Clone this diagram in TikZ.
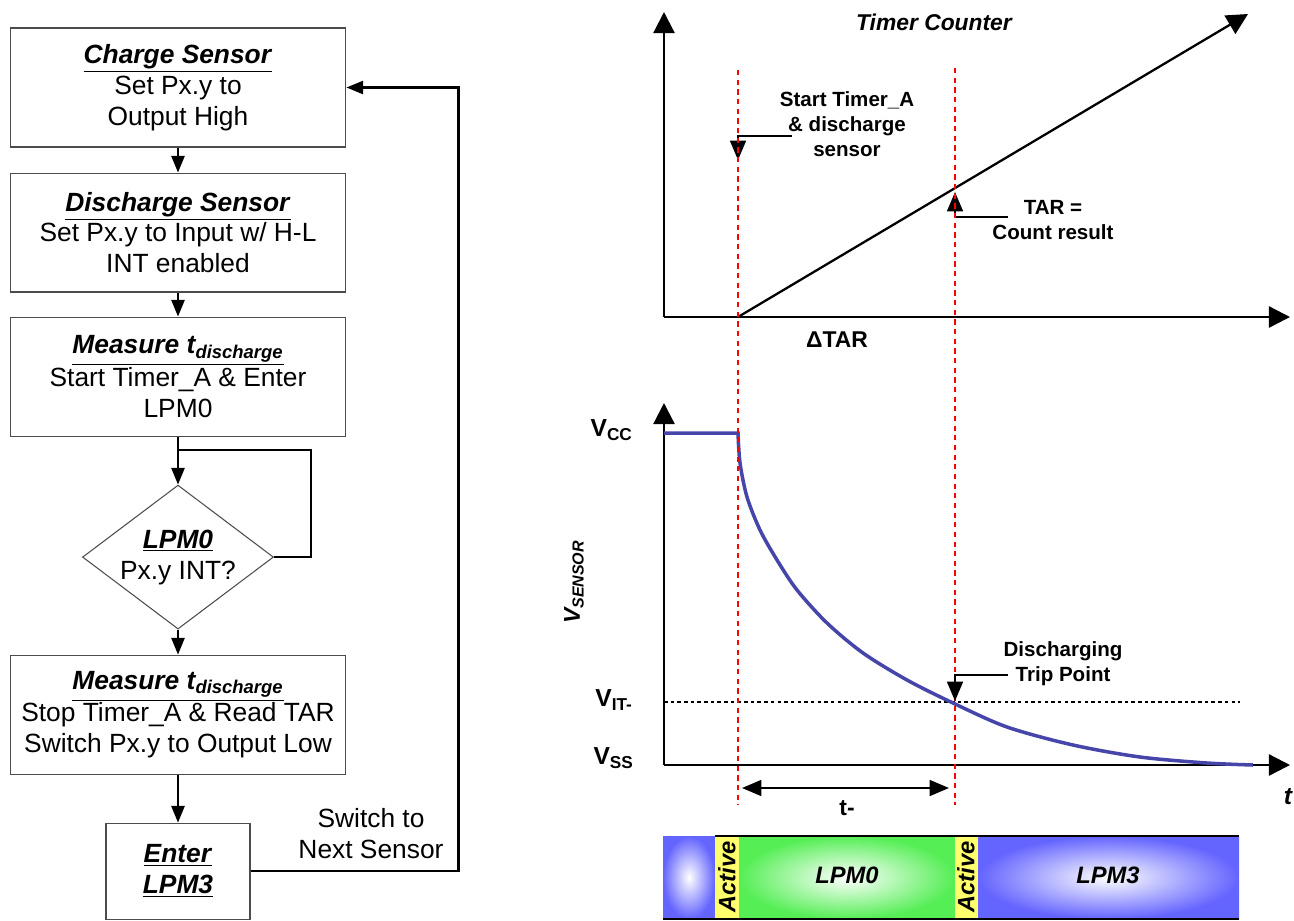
\documentclass[tikz,border=0pt]{standalone}
\usepackage{fontspec}
\setmainfont{Liberation Sans}
\usetikzlibrary{positioning,shapes.geometric,arrows.meta,calc}
\definecolor{boxline}{gray}{0.3}
\definecolor{curveblue}{RGB}{70,70,170}
\definecolor{barblue}{RGB}{100,100,255}
\definecolor{bargreen}{RGB}{85,238,85}
\definecolor{baryellow}{RGB}{255,255,110}
\tikzstyle{flow} = [
    line width=1.2pt,
    ->,
    >={Triangle[length=9.5pt,width=7.5pt]}
]
\newcommand{\steptitle}[1]{\underline{\textbf{\textit{#1}}}}

\begin{document}
\begin{tikzpicture}[
    x=0.02cm, y=-0.02cm,
    node distance=0.5cm,
    stepbox/.style={
        draw=boxline,
        line width=0.6pt,
        align=center,
        inner sep=0pt,
        minimum width=6.72cm,
        minimum height=2.38cm,
        font=\fontsize{15}{17.6}\selectfont
    },
    decision/.style={
        stepbox,
        diamond,
        aspect=1.33,
        minimum width=3.82cm,
        minimum height=2.88cm
    },
    endbox/.style={
        stepbox,
        minimum width=2.88cm,
        minimum height=1.92cm
    },
    link/.style={line width=1.2pt},
    axis/.style={
        line width=1.3pt,
        ->,
        >={Triangle[length=12pt,width=12pt]}
    },
    leader/.style={
        line width=1.2pt,
        ->,
        >={Triangle[length=11pt,width=9pt]}
    },
    marker/.style={red, line width=1.1pt, dash pattern=on 3pt off 2.5pt},
    sensor/.style={curveblue, line width=2pt},
    trip/.style={line width=1.4pt, dash pattern=on 2pt off 1.8pt},
    note/.style={align=center, font=\fontsize{11.7}{14.3}\selectfont\bfseries},
    level/.style={note, anchor=east, font=\fontsize{14}{16}\selectfont\bfseries},
    barlabel/.style={font=\fontsize{13.5}{16}\selectfont\bfseries\itshape}
]
\useasboundingbox (0,0) rectangle (1294,920);

% Flowchart
\node (charge) [stepbox] at (178,87.5) {\steptitle{Charge Sensor}\\Set Px.y to\\Output High};
\node (discharge) [stepbox, below=0.5cm of charge] {\steptitle{Discharge Sensor}\\Set Px.y to Input w/ H-L\\INT enabled};
\node (measure) [stepbox, below=0.48cm of discharge] {\steptitle{Measure t\textsubscript{discharge}}\\Start Timer\_A \& Enter\\LPM0};
\node (lpm) [decision, below=0.96cm of measure] {\steptitle{LPM0}\\Px.y INT?};
\node (stop) [stepbox, below=0.5cm of lpm] {\steptitle{Measure t\textsubscript{discharge}}\\Stop Timer\_A \& Read TAR\\Switch Px.y to Output Low};
\node (enter) [endbox, below=0.96cm of stop] {\steptitle{Enter}\\\steptitle{LPM3}};
\node (switchlbl) [align=center, font=\fontsize{15}{17.6}\selectfont] at (371,834) {Switch to\\Next Sensor};

\draw[flow] (charge) -- (discharge);
\draw[flow] (discharge) -- (measure);
\draw[flow] (measure) -- (lpm);
\draw[flow] (lpm) -- (stop);
\draw[flow] (stop) -- (enter);
\draw[link] (lpm.east) -- ++(37,0) |- ([yshift=-0.26cm]measure.south);
\draw[flow] (enter.east) -- ++(208,0) |- (charge.east);

% Timer counter
\coordinate (torigin) at (664,317);
\draw[axis] (torigin) -- (664,12);
\draw[axis] (torigin) -- (1290,317);
\draw[axis] (738,317) -- (1248,14);
\node (tctitle) [note, font=\fontsize{13}{15}\selectfont\bfseries\itshape] at (934,22) {Timer Counter};
\node (startlbl) [note] at (847,124) {Start Timer\_A\\\& discharge\\sensor};
\node (tarlbl) [note] at (1053,220) {TAR =\\Count result};
\node (deltalbl) [note, font=\fontsize{13}{15}\selectfont\bfseries] at (837,340) {ΔTAR};
\draw[leader] (792,136) -- (738,136) -- (738,160);
\draw[leader] (1008,217) -- (955,217) -- (955,192);

% Sensor voltage
\coordinate (vorigin) at (664,765);
\draw[axis] (vorigin) -- (664,403);
\draw[axis] (vorigin) -- (1290,765);
\draw[trip] (664,702) -- (1240,702);
\draw[sensor] (664,433) -- (738,433)
    -- plot[smooth] coordinates {(738,433) (740,463) (747,497) (760,530) (777,560) (797,590)
       (827,623) (863,653) (907,680) (953,703) (1007,727) (1073,745) (1140,757) (1207,763) (1253,765)};
\draw[marker] (738,70) -- (738,805);
\draw[marker] (955,68) -- (955,805);
\node (vcc) [level] at (639,430) {V\textsubscript{CC}};
\node (vit) [level] at (639,700) {V\textsubscript{IT-}};
\node (vss) [level] at (640,758) {V\textsubscript{SS}};
\node (vsensor) [note, rotate=90, font=\fontsize{13}{15}\selectfont\bfseries\itshape] at (574,582) {V\textsubscript{SENSOR}};
\node (triplbl) [note] at (1063,664) {Discharging\\Trip Point};
\draw[leader] (1008,675) -- (955,675) -- (955,701);
\draw[leader, <->] (742,788) -- (949,788);
\node (tdis) [note, font=\fontsize{13}{15}\selectfont\bfseries] at (847,808) {t-};
\node (taxis) [note, font=\fontsize{14}{16}\selectfont\bfseries\itshape] at (1288,797) {t};

% Power mode bar
\shade[inner color=white, outer color=barblue] (663,836) rectangle (715,919);
\fill[baryellow] (715,836) rectangle (739,919);
\shade[inner color=white, outer color=bargreen] (739,836) rectangle (955,919);
\fill[baryellow] (955,836) rectangle (978,919);
\shade[inner color=white, outer color=barblue] (978,836) rectangle (1239,919);
\draw[line width=1pt] (715,836) -- (1239,836);
\draw[line width=0.6pt] (663,919) -- (1239,919);
\node (act1) [barlabel, rotate=90] at (727,877) {Active};
\node (act2) [barlabel, rotate=90] at (966,877) {Active};
\node (lpm0) [barlabel] at (847,875) {LPM0};
\node (lpm3) [barlabel] at (1108,875) {LPM3};
\end{tikzpicture}
\end{document}
